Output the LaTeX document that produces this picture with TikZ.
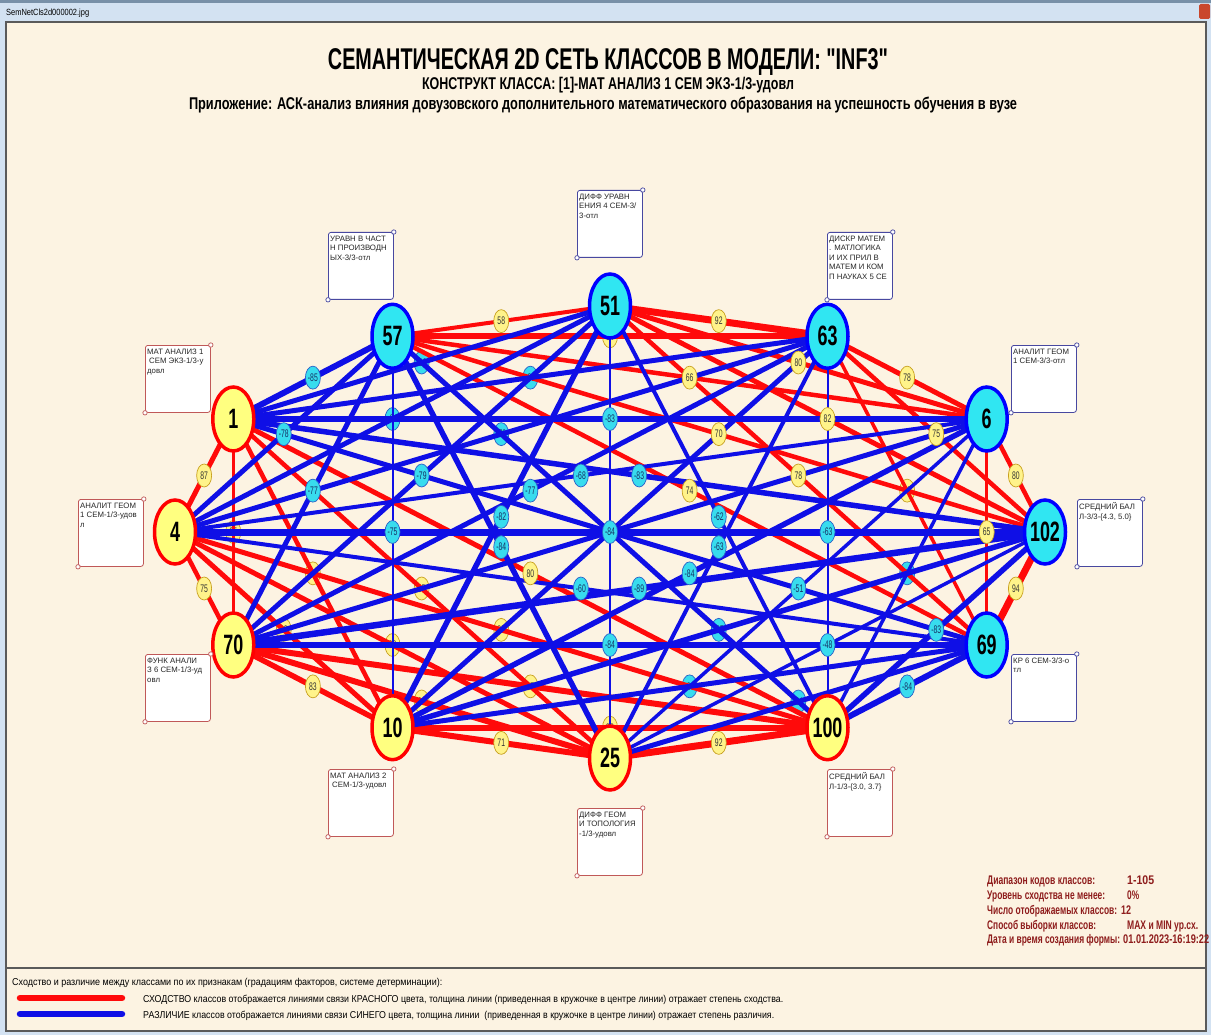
\documentclass[tikz,border=0pt]{standalone}
\usepackage{fontspec}
\setmainfont{Liberation Sans}
\newfontfamily\qf{Liberation Sans}
\usepackage{graphicx}
\usetikzlibrary{shapes.geometric,calc}
\definecolor{cream}{HTML}{FCF3E2}
\definecolor{lred}{HTML}{FF0A0A}
\definecolor{lblue}{HTML}{0F0FE6}
\definecolor{nyel}{HTML}{FFFF80}
\definecolor{ncyan}{HTML}{30E6F2}
\definecolor{lyel}{HTML}{FFF38A}
\definecolor{lyelb}{HTML}{C8A020}
\definecolor{lcy}{HTML}{38DCEE}
\definecolor{lcyb}{HTML}{2A60C8}
\definecolor{yboxc}{HTML}{C05858}
\definecolor{cboxc}{HTML}{4848A0}
\definecolor{infored}{HTML}{8E1C1C}
\definecolor{barblue}{HTML}{D3E2F2}
\definecolor{stripc}{HTML}{7890A8}
\definecolor{framegray}{HTML}{5A5A5A}
\definecolor{closec}{HTML}{C9462C}
\pgfdeclarelayer{bg}\pgfdeclarelayer{l0}\pgfdeclarelayer{l1}\pgfdeclarelayer{l2}
\pgfsetlayers{bg,l0,l1,l2,main}
\newcommand\fitw[2]{\resizebox{#1}{\height}{#2}}
\newcommand\nnum[1]{\makebox[0pt]{\scalebox{0.64}[1]{\fontsize{28}{28}\selectfont\bfseries #1}}}
\newcommand\lnum[1]{\makebox[0pt]{\scalebox{0.62}[1]{\fontsize{11}{11}\selectfont #1}}}
\tikzset{
 ynode/.style={ellipse, draw=red, line width=3.5pt, fill=nyel, minimum width=41pt, minimum height=64pt, inner sep=0pt},
 cnode/.style={ellipse, draw=blue, line width=3.5pt, fill=ncyan, minimum width=41pt, minimum height=64pt, inner sep=0pt},
 ylbl/.style={ellipse, draw=lyelb, line width=0.7pt, fill=lyel, minimum width=15pt, minimum height=23pt, inner sep=0pt, text=black!80},
 clbl/.style={ellipse, draw=lcyb, line width=0.7pt, fill=lcy, minimum width=15pt, minimum height=23pt, inner sep=0pt, text=lcyb!50!black},
 redge/.style={draw=lred},
 bedge/.style={draw=lblue},
 ybox/.style={rectangle, rounded corners=2.5pt, draw=yboxc, line width=0.8pt, fill=white, minimum width=65pt, minimum height=67pt, inner sep=0pt},
 cbox/.style={rectangle, rounded corners=2.5pt, draw=cboxc, line width=0.8pt, fill=white, minimum width=65pt, minimum height=67pt, inner sep=0pt},
 yboxdot/.style={draw=yboxc, line width=0.7pt, fill=white},
 cboxdot/.style={draw=cboxc, line width=0.7pt, fill=white},
 boxtext/.style={inner sep=0pt, align=left, font=\fontsize{7.8}{9.6}\selectfont, text=black!85},
 plain/.style={inner sep=0pt},
}
\newcommand\mkbox[5]{%
  \node[#4, anchor=north west] (b#1) at (#2,#3) {};
  \node[boxtext, anchor=north west] (t#1) at ($(b#1.north west)+(2,3.5)$) {#5};
  \draw[#4dot] (b#1.north east) circle (2.2);
  \draw[#4dot] (b#1.south west) circle (2.2);
}
\begin{document}
\begin{tikzpicture}[x=1pt,y=-1pt]
\useasboundingbox (0,0) rectangle (1211,1035);
\begin{pgfonlayer}{bg}
\fill[barblue] (0,0) rectangle (1211,1035);
\fill[stripc] (0,0) rectangle (1211,3);
\fill[cream] (6,22) rectangle (1206,1031);
\draw[framegray, line width=1.2pt] (6,22) rectangle (1206,1031);
\draw[framegray, line width=1.2pt] (6,968) -- (1206,968);
\fill[closec, rounded corners=1.5pt] (1199,4) rectangle (1210,19);
\end{pgfonlayer}
\node[plain, anchor=base west] (wt) at (6,16) {\fitw{83pt}{\fontsize{9}{9}\selectfont SemNetCls2d000002.jpg}};
% titles
\node[plain, anchor=base] (title) at (608,70) {\fitw{560pt}{\fontsize{30}{30}\selectfont\bfseries СЕМАНТИЧЕСКАЯ 2D СЕТЬ КЛАССОВ В МОДЕЛИ: {\qf"}INF3{\qf"}}};
\node[plain, anchor=base] (sub) at (608,90) {\fitw{372pt}{\fontsize{17}{17}\selectfont\bfseries КОНСТРУКТ КЛАССА: [1]-МАТ АНАЛИЗ 1 СЕМ ЭКЗ-1/3-удовл}};
\node[plain, anchor=base] (app) at (603,110) {\fitw{828pt}{\fontsize{17}{17}\selectfont\bfseries Приложение: АСК-анализ влияния довузовского дополнительного математического образования на успешность обучения в вузе}};
% class nodes
\foreach \nm/\k/\st in {102/0/cnode,6/1/cnode,63/2/cnode,51/3/cnode,57/4/cnode,1/5/ynode,4/6/ynode,70/7/ynode,10/8/ynode,25/9/ynode,100/10/ynode,69/11/cnode}
  \node[\st] (n\nm) at ({610+435*cos(30*\k)},{532-226*sin(30*\k)}) {\nnum{\nm}};
% red edges, visible labels
\foreach \a/\b/\v/\w in {1/4/87/5, 4/70/75/4.5, 70/10/83/5.5, 10/25/71/6, 25/100/92/7, 1/100/80/5, 102/6/80/4.5, 102/63/75/4.5, 102/51/82/5, 102/57/70/4.5, 102/69/94/7, 6/63/78/5, 6/51/80/5, 6/57/66/4.5, 6/69/65/3, 63/51/92/7, 51/57/58/4, 51/69/78/4.5, 57/69/74/4.5}{
  \begin{pgfonlayer}{l1}\draw[redge, line width=\w pt] (n\a.center) -- (n\b.center);\end{pgfonlayer}
  \begin{pgfonlayer}{l2}\node[ylbl] (l\a-\b) at ($(n\a.center)!0.5!(n\b.center)$) {\lnum{\v}};\end{pgfonlayer}
}
% red edges, hidden labels
\foreach \a/\b/\v/\w in {1/70/65/3.5, 1/10/80/4.5, 1/25/85/4.5, 4/10/82/5, 4/25/80/5, 4/100/85/5, 70/25/84/6, 70/100/87/6, 10/100/90/6, 63/57/84/6, 63/69/79/3.5}{
  \begin{pgfonlayer}{l1}\draw[redge, line width=\w pt] (n\a.center) -- (n\b.center);\end{pgfonlayer}
  \begin{pgfonlayer}{l0}\node[ylbl] (l\a-\b) at ($(n\a.center)!0.5!(n\b.center)$) {\lnum{\v}};\end{pgfonlayer}
}
% blue edges, visible labels
\foreach \a/\b/\v/\w in {1/57/-85/6, 1/6/-83/5.5, 1/102/-83/5.5, 4/57/-78/5, 4/6/-68/4, 4/69/-60/4, 70/57/-77/5, 70/51/-79/5, 70/63/-77/5, 70/102/-89/6.5, 70/69/-84/6, 10/57/-75/2, 10/51/-82/5.5, 10/6/-84/5.5, 25/57/-84/5.5, 25/63/-63/4, 25/6/-51/3.5, 25/102/-48/3.5, 100/51/-62/4, 100/63/-63/2, 100/102/-83/5.5, 100/69/-84/6}{
  \begin{pgfonlayer}{l1}\draw[bedge, line width=\w pt] (n\a.center) -- (n\b.center);\end{pgfonlayer}
  \begin{pgfonlayer}{l2}\node[clbl] (l\a-\b) at ($(n\a.center)!0.5!(n\b.center)$) {\lnum{\v}};\end{pgfonlayer}
}
% blue edges, hidden labels
\foreach \a/\b/\v/\w in {1/51/-80/5, 1/63/-81/5, 4/51/-81/5, 4/63/-79/5, 10/102/-85/5.5, 10/69/-80/5, 25/69/-81/5, 100/6/-58/3.5}{
  \begin{pgfonlayer}{l1}\draw[bedge, line width=\w pt] (n\a.center) -- (n\b.center);\end{pgfonlayer}
  \begin{pgfonlayer}{l0}\node[clbl] (l\a-\b) at ($(n\a.center)!0.5!(n\b.center)$) {\lnum{\v}};\end{pgfonlayer}
}
% diametric blue edges, sharing the centre label
\begin{pgfonlayer}{l1}
\foreach \a/\b/\w in {4/102/7, 1/69/5, 70/6/5, 10/63/5, 100/57/5, 25/51/2}
  \draw[bedge, line width=\w pt] (n\a.center) -- (n\b.center);
\end{pgfonlayer}
\begin{pgfonlayer}{l2}
\node[clbl] (lc) at ($(n4.center)!0.5!(n102.center)$) {\lnum{-84}};
\end{pgfonlayer}
% text boxes
\mkbox{57}{328}{232}{cbox}{УРАВН В ЧАСТ\\Н ПРОИЗВОДН\\ЫХ-3/3-отл}
\mkbox{51}{577}{190}{cbox}{ДИФФ УРАВН\\ЕНИЯ 4 СЕМ-3/\\3-отл}
\mkbox{63}{827}{232}{cbox}{ДИСКР МАТЕМ\\. МАТЛОГИКА\\И ИХ ПРИЛ В\\МАТЕМ И КОМ\\П НАУКАХ 5 СЕ}
\mkbox{6}{1011}{345}{cbox}{АНАЛИТ ГЕОМ\\1 СЕМ-3/3-отл}
\mkbox{102}{1077}{499}{cbox}{СРЕДНИЙ БАЛ\\Л-3/3-\{4.3, 5.0\}}
\mkbox{69}{1011}{654}{cbox}{КР 6 СЕМ-3/3-о\\тл}
\mkbox{1}{145}{345}{ybox}{МАТ АНАЛИЗ 1\\\hspace*{2pt}СЕМ ЭКЗ-1/3-у\\довл}
\mkbox{4}{78}{499}{ybox}{АНАЛИТ ГЕОМ\\1 СЕМ-1/3-удов\\л}
\mkbox{70}{145}{654}{ybox}{ФУНК АНАЛИ\\З 6 СЕМ-1/3-уд\\овл}
\mkbox{10}{328}{769}{ybox}{МАТ АНАЛИЗ 2\\\hspace*{2pt}СЕМ-1/3-удовл}
\mkbox{25}{577}{808}{ybox}{ДИФФ ГЕОМ\\И ТОПОЛОГИЯ\\-1/3-удовл}
\mkbox{100}{827}{769}{ybox}{СРЕДНИЙ БАЛ\\Л-1/3-\{3.0, 3.7\}}
% info block
\begin{scope}[every node/.style={plain, anchor=base west, text=infored}]
\node (i1) at (987,884) {\fitw{108pt}{\fontsize{12.5}{12}\selectfont\bfseries Диапазон кодов классов:}};
\node (v1) at (1127,884) {\fitw{27pt}{\fontsize{12.5}{12}\selectfont\bfseries 1-105}};
\node (i2) at (987,899) {\fitw{118pt}{\fontsize{12.5}{12}\selectfont\bfseries Уровень сходства не менее:}};
\node (v2) at (1127,899) {\fitw{12pt}{\fontsize{12.5}{12}\selectfont\bfseries 0\%}};
\node (i3) at (987,914) {\fitw{130pt}{\fontsize{12.5}{12}\selectfont\bfseries Число отображаемых классов:}};
\node (v3) at (1121,914) {\fitw{10pt}{\fontsize{12.5}{12}\selectfont\bfseries 12}};
\node (i4) at (987,929) {\fitw{109pt}{\fontsize{12.5}{12}\selectfont\bfseries Способ выборки классов:}};
\node (v4) at (1127,929) {\fitw{71pt}{\fontsize{12.5}{12}\selectfont\bfseries MAX и MIN ур.сх.}};
\node (i5) at (987,943) {\fitw{133pt}{\fontsize{12.5}{12}\selectfont\bfseries Дата и время создания формы:}};
\node (v5) at (1123,943) {\fitw{86pt}{\fontsize{12.5}{12}\selectfont\bfseries 01.01.2023-16:19:22}};
\end{scope}
% legend
\node[plain, anchor=base west] (lg0) at (12,985) {\fitw{430pt}{\fontsize{10}{10}\selectfont Сходство и различие между классами по их признакам (градациям факторов, системе детерминации):}};
\draw[lred, line width=6.5pt, line cap=round] (20,998) -- (122,998);
\node[plain, anchor=base west] (lg1) at (143,1002) {\fitw{640pt}{\fontsize{10}{10}\selectfont СХОДСТВО классов отображается линиями связи КРАСНОГО цвета, толщина линии (приведенная в кружочке в центре линии) отражает степень сходства.}};
\draw[lblue, line width=6.5pt, line cap=round] (20,1014) -- (122,1014);
\node[plain, anchor=base west] (lg2) at (143,1018) {\fitw{631pt}{\fontsize{10}{10}\selectfont РАЗЛИЧИЕ классов отображается линиями связи СИНЕГО цвета, толщина линии \ (приведенная в кружочке в центре линии) отражает степень различия.}};
\end{tikzpicture}
\end{document}
